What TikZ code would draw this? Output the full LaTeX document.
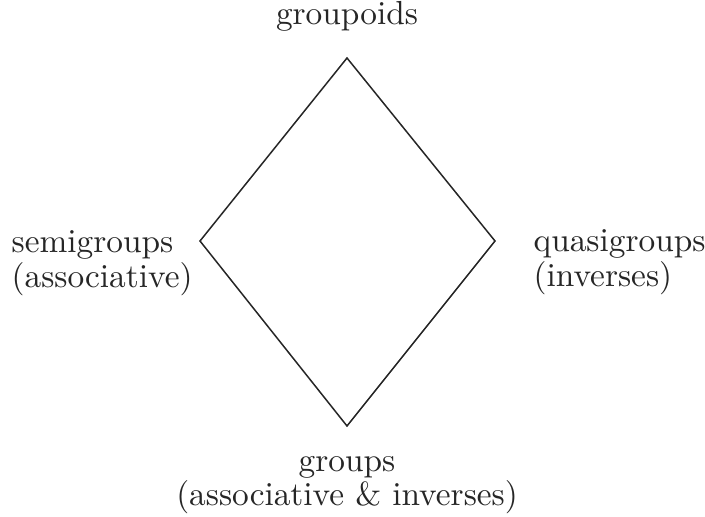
\documentclass[tikz,border=0pt]{standalone}
\begin{document}
\begin{tikzpicture}[x=0.3pt,y=-0.3pt,
  lbl/.style={inner sep=0pt, text=black!85, font=\fontsize{10}{9.2}\selectfont},
  edge/.style={line width=0.45pt, draw=black!85, line join=miter}]
\useasboundingbox (0,0) rectangle (705,517);
\node[lbl, anchor=base] (groupoids) at (347,25) {groupoids};
\node[lbl, anchor=base west] (semi) at (11,253)
  {\begin{tabular}[t]{@{}l@{}}semigroups\\(associative)\end{tabular}};
\node[lbl, anchor=base west] (quasi) at (533,252)
  {\begin{tabular}[t]{@{}l@{}}quasigroups\\(inverses)\end{tabular}};
\node[lbl, anchor=base] (groups) at (347,471)
  {\begin{tabular}[t]{@{}c@{}}groups\\(associative \& inverses)\end{tabular}};
\coordinate (top) at (347,58);
\coordinate (right) at (495,241);
\coordinate (bottom) at (347,426);
\coordinate (left) at (200,241);
\draw[edge] (top) -- (right) -- (bottom) -- (left) -- cycle;
\end{tikzpicture}
\end{document}
